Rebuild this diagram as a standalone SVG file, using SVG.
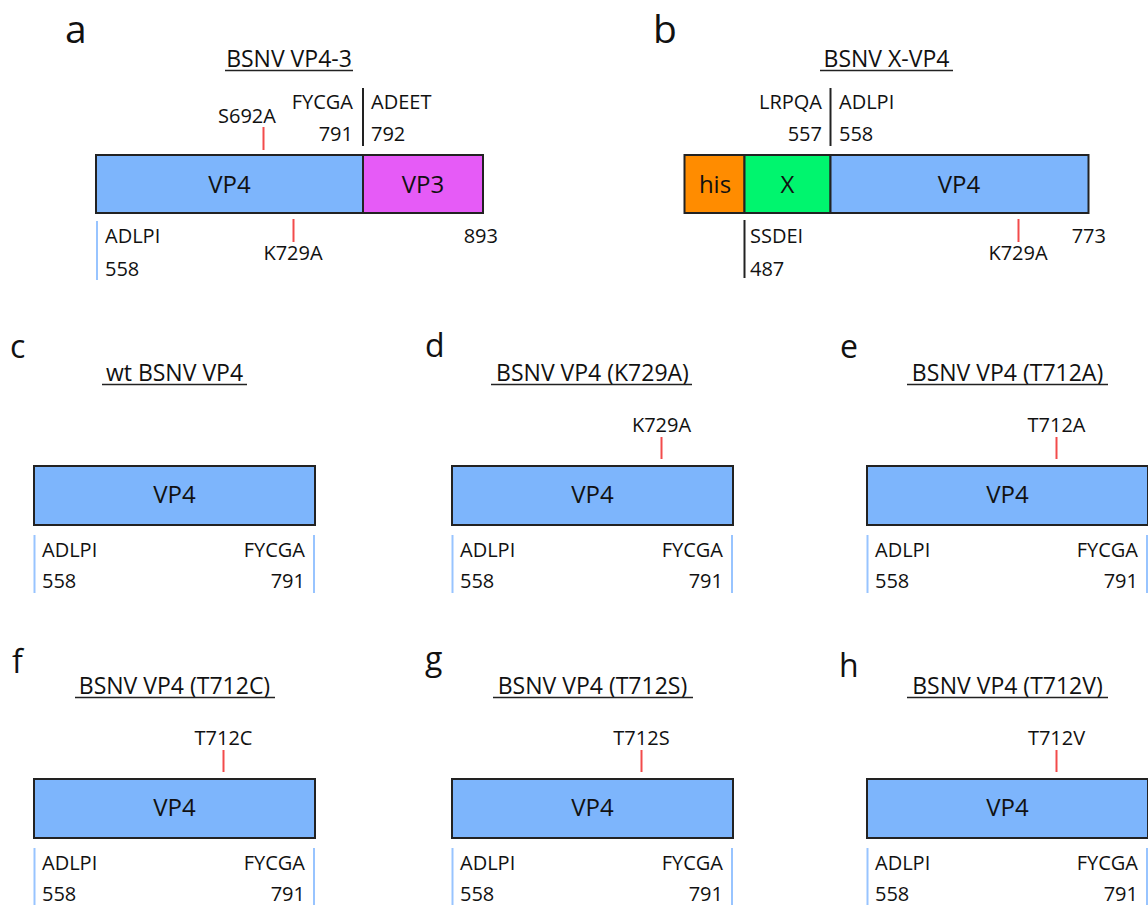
<svg xmlns="http://www.w3.org/2000/svg" width="1148" height="905" viewBox="0 0 1148 905">
<defs>
<style>
text{font-family:"Open Sans","Liberation Sans",sans-serif;fill:#111}
.lt{font-size:39px}
.ls{font-size:32px}
.bx{font-size:24px;text-anchor:middle}
.lb{font-size:20px}
.tt{font-size:23px;text-anchor:middle}
.e{text-anchor:end}
.m{text-anchor:middle}
.box{stroke:#222;stroke-width:2}
.vp4{fill:#7db5fc}
.vp3{fill:#e65bf7}
.his{fill:#ff8c00}
.x{fill:#00f56e}
.red{stroke:#f24b4b;stroke-width:2}
.blu{stroke:#98c4ff;stroke-width:2}
.blk{stroke:#222;stroke-width:2}
.ul{stroke:#222;stroke-width:1.4}
</style>
</defs>
<rect width="1148" height="905" fill="#fff"/>

<g id="panel-a">
<text class="lt" x="65" y="43">a</text>
<text class="tt" x="289" y="67">BSNV VP4-3</text>
<line class="ul" x1="225" y1="70.5" x2="353" y2="70.5"/>
<g id="a-vp4"><rect class="box vp4" x="96" y="155" width="267" height="58"/><text class="bx" x="229.5" y="193">VP4</text></g>
<g id="a-vp3"><rect class="box vp3" x="363" y="155" width="120" height="58"/><text class="bx" x="423" y="193">VP3</text></g>
<line class="red" x1="263.5" y1="127" x2="263.5" y2="150"/>
<text class="lb m" x="247" y="123">S692A</text>
<text class="lb e" x="353" y="109">FYCGA</text>
<text class="lb e" x="353" y="141">791</text>
<line class="blk" x1="363" y1="88" x2="363" y2="146"/>
<text class="lb" x="371" y="109">ADEET</text>
<text class="lb" x="371" y="141">792</text>
<line class="blu" x1="97" y1="221" x2="97" y2="280"/>
<text class="lb" x="105" y="243">ADLPI</text>
<text class="lb" x="105" y="276">558</text>
<line class="red" x1="293.5" y1="219" x2="293.5" y2="242"/>
<text class="lb m" x="293" y="260">K729A</text>
<text class="lb e" x="498" y="243">893</text>
</g>

<g id="panel-b">
<text class="lt" x="653" y="43">b</text>
<text class="tt" x="886.5" y="67">BSNV X-VP4</text>
<line class="ul" x1="820" y1="70.5" x2="953" y2="70.5"/>
<g id="b-his"><rect class="box his" x="684.5" y="155" width="60" height="58"/><text class="bx" x="715" y="193">his</text></g>
<g id="b-x"><rect class="box x" x="744.5" y="155" width="86" height="58"/><text class="bx" x="787.5" y="193">X</text></g>
<g id="b-vp4"><rect class="box vp4" x="830.5" y="155" width="258" height="58"/><text class="bx" x="959" y="193">VP4</text></g>
<text class="lb e" x="822" y="109">LRPQA</text>
<text class="lb e" x="822" y="141">557</text>
<line class="blk" x1="830.5" y1="88" x2="830.5" y2="146"/>
<text class="lb" x="839" y="109">ADLPI</text>
<text class="lb" x="839" y="141">558</text>
<line class="blk" x1="744.5" y1="220" x2="744.5" y2="278"/>
<text class="lb" x="750" y="243">SSDEI</text>
<text class="lb" x="750" y="276">487</text>
<line class="red" x1="1018.5" y1="219" x2="1018.5" y2="242"/>
<text class="lb m" x="1018" y="260">K729A</text>
<text class="lb e" x="1106" y="243">773</text>
</g>

<g id="letters">
<text class="ls" x="10" y="358">c</text>
<text class="ls" x="425" y="357">d</text>
<text class="ls" x="840" y="358">e</text>
<text class="ls" x="12" y="673">f</text>
<text class="ls" x="425" y="670">g</text>
<text class="ls" x="839" y="677">h</text>
</g>

<g id="panel-c">
<text class="tt" x="174.5" y="381">wt BSNV VP4</text>
<line class="ul" x1="102" y1="384.5" x2="247" y2="384.5"/>
<rect class="box vp4" x="34" y="466" width="281" height="59"/><text class="bx" x="174.5" y="503">VP4</text>
<line class="blu" x1="34.5" y1="535" x2="34.5" y2="593"/><line class="blu" x1="314" y1="535" x2="314" y2="593"/>
<text class="lb" x="42" y="557">ADLPI</text><text class="lb" x="42" y="588">558</text>
<text class="lb e" x="305" y="557">FYCGA</text><text class="lb e" x="305" y="588">791</text>
</g>

<g id="panel-d" transform="translate(418,0)">
<text class="tt" x="174.5" y="381">BSNV VP4 (K729A)</text>
<line class="ul" x1="73" y1="384.5" x2="274" y2="384.5"/>
<line class="red" x1="243.5" y1="437" x2="243.5" y2="459"/><text class="lb m" x="243.5" y="431.5">K729A</text>
<rect class="box vp4" x="34" y="466" width="281" height="59"/><text class="bx" x="174.5" y="503">VP4</text>
<line class="blu" x1="34.5" y1="535" x2="34.5" y2="593"/><line class="blu" x1="314" y1="535" x2="314" y2="593"/>
<text class="lb" x="42" y="557">ADLPI</text><text class="lb" x="42" y="588">558</text>
<text class="lb e" x="305" y="557">FYCGA</text><text class="lb e" x="305" y="588">791</text>
</g>

<g id="panel-e" transform="translate(833,0)">
<text class="tt" x="174.5" y="381">BSNV VP4 (T712A)</text>
<line class="ul" x1="74" y1="384.5" x2="275" y2="384.5"/>
<line class="red" x1="223.5" y1="437" x2="223.5" y2="459"/><text class="lb m" x="223.5" y="431.5">T712A</text>
<rect class="box vp4" x="34" y="466" width="281" height="59"/><text class="bx" x="174.5" y="503">VP4</text>
<line class="blu" x1="34.5" y1="535" x2="34.5" y2="593"/><line class="blu" x1="314" y1="535" x2="314" y2="593"/>
<text class="lb" x="42" y="557">ADLPI</text><text class="lb" x="42" y="588">558</text>
<text class="lb e" x="305" y="557">FYCGA</text><text class="lb e" x="305" y="588">791</text>
</g>

<g id="panel-f" transform="translate(0,313)">
<text class="tt" x="174.5" y="381">BSNV VP4 (T712C)</text>
<line class="ul" x1="75" y1="384.5" x2="275" y2="384.5"/>
<line class="red" x1="223.5" y1="437" x2="223.5" y2="459"/><text class="lb m" x="223.5" y="431.5">T712C</text>
<rect class="box vp4" x="34" y="466" width="281" height="59"/><text class="bx" x="174.5" y="503">VP4</text>
<line class="blu" x1="34.5" y1="535" x2="34.5" y2="593"/><line class="blu" x1="314" y1="535" x2="314" y2="593"/>
<text class="lb" x="42" y="557">ADLPI</text><text class="lb" x="42" y="588">558</text>
<text class="lb e" x="305" y="557">FYCGA</text><text class="lb e" x="305" y="588">791</text>
</g>

<g id="panel-g" transform="translate(418,313)">
<text class="tt" x="174.5" y="381">BSNV VP4 (T712S)</text>
<line class="ul" x1="75" y1="384.5" x2="275" y2="384.5"/>
<line class="red" x1="223.5" y1="437" x2="223.5" y2="459"/><text class="lb m" x="223.5" y="431.5">T712S</text>
<rect class="box vp4" x="34" y="466" width="281" height="59"/><text class="bx" x="174.5" y="503">VP4</text>
<line class="blu" x1="34.5" y1="535" x2="34.5" y2="593"/><line class="blu" x1="314" y1="535" x2="314" y2="593"/>
<text class="lb" x="42" y="557">ADLPI</text><text class="lb" x="42" y="588">558</text>
<text class="lb e" x="305" y="557">FYCGA</text><text class="lb e" x="305" y="588">791</text>
</g>

<g id="panel-h" transform="translate(833,313)">
<text class="tt" x="174.5" y="381">BSNV VP4 (T712V)</text>
<line class="ul" x1="74" y1="384.5" x2="275" y2="384.5"/>
<line class="red" x1="223.5" y1="437" x2="223.5" y2="459"/><text class="lb m" x="223.5" y="431.5">T712V</text>
<rect class="box vp4" x="34" y="466" width="281" height="59"/><text class="bx" x="174.5" y="503">VP4</text>
<line class="blu" x1="34.5" y1="535" x2="34.5" y2="593"/><line class="blu" x1="314" y1="535" x2="314" y2="593"/>
<text class="lb" x="42" y="557">ADLPI</text><text class="lb" x="42" y="588">558</text>
<text class="lb e" x="305" y="557">FYCGA</text><text class="lb e" x="305" y="588">791</text>
</g>
</svg>
